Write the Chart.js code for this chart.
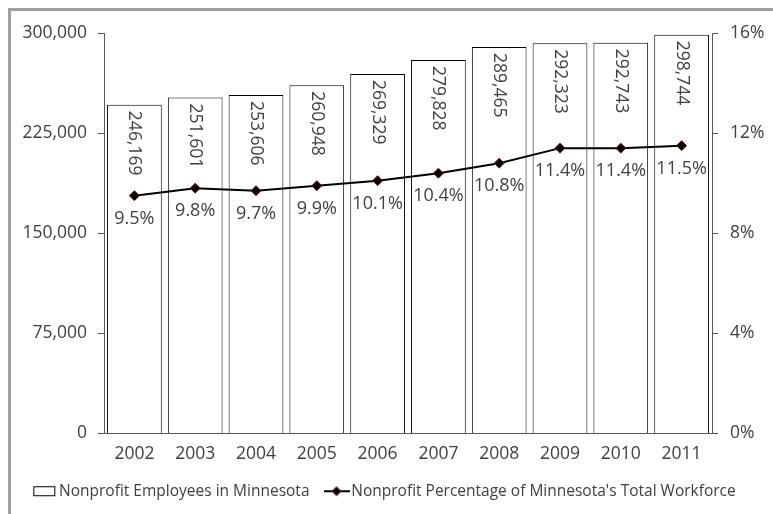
<!DOCTYPE html>
<html>
<head>
<meta charset="utf-8">
<script src="https://cdn.jsdelivr.net/npm/chart.js@4"></script>
<style>
  html, body { margin: 0; padding: 0; background: #fff; }
  #wrap { width: 773px; height: 514px; position: relative; }
</style>
</head>
<body>
<div id="wrap"><canvas id="chart" width="773" height="514"></canvas></div>
<script>
const years = ['2002', '2003', '2004', '2005', '2006', '2007', '2008', '2009', '2010', '2011'];
const employees = [246169, 251601, 253606, 260948, 269329, 279828, 289465, 292323, 292743, 298744];
const workforcePct = [9.5, 9.8, 9.7, 9.9, 10.1, 10.4, 10.8, 11.4, 11.4, 11.5];
const leftTicks = [0, 75000, 150000, 225000, 300000];
const rightTicks = [0, 4, 8, 12, 16];

const textColor = '#404040';
const fontFamily = '"Open Sans", sans-serif';

// legend icons
function makeBoxIcon() {
    const c = document.createElement('canvas');
    c.width = 24; c.height = 12;
    const g = c.getContext('2d');
    g.fillStyle = '#fff';
    g.fillRect(1, 1, 22, 10);
    g.strokeStyle = '#000';
    g.lineWidth = 1;
    g.strokeRect(1.5, 1.5, 21, 9);
    return c;
}
function makeLineIcon() {
    const c = document.createElement('canvas');
    c.width = 26; c.height = 12;
    const g = c.getContext('2d');
    g.strokeStyle = '#000';
    g.lineWidth = 2;
    g.beginPath(); g.moveTo(0, 6); g.lineTo(26, 6); g.stroke();
    g.fillStyle = '#000';
    g.strokeStyle = '#7a1010';
    g.lineWidth = 1;
    g.beginPath();
    g.moveTo(13, 1.5); g.lineTo(17.5, 6); g.lineTo(13, 10.5); g.lineTo(8.5, 6); g.closePath();
    g.fill(); g.stroke();
    return c;
}
const boxIcon = makeBoxIcon();
const lineIcon = makeLineIcon();

// gray frame around the chart
const framePlugin = {
    id: 'frame',
    beforeDraw(chart) {
        const ctx = chart.ctx;
        ctx.save();
        ctx.strokeStyle = '#a0a0a0';
        ctx.lineWidth = 3;
        ctx.beginPath();
        ctx.moveTo(9.5, 600);
        ctx.lineTo(9.5, 9.5);
        ctx.lineTo(800, 9.5);
        ctx.stroke();
        ctx.restore();
    }
};

// value labels: rotated inside bars, percentages under points
const labelPlugin = {
    id: 'valueLabels',
    afterDatasetsDraw(chart) {
        const ctx = chart.ctx;
        ctx.save();
        ctx.fillStyle = textColor;
        ctx.font = '17.5px ' + fontFamily;
        const barMeta = chart.getDatasetMeta(1);
        barMeta.data.forEach((bar, i) => {
            ctx.save();
            ctx.translate(bar.x, bar.y + 6);
            ctx.rotate(Math.PI / 2);
            ctx.textAlign = 'left';
            ctx.textBaseline = 'middle';
            ctx.fillText(employees[i].toLocaleString('en-US'), 0, 0);
            ctx.restore();
        });
        const lineMeta = chart.getDatasetMeta(0);
        ctx.font = '18px ' + fontFamily;
        ctx.textAlign = 'center';
        ctx.textBaseline = 'middle';
        lineMeta.data.forEach((pt, i) => {
            ctx.fillText(workforcePct[i].toFixed(1) + '%', pt.x, pt.y + 23);
        });
        ctx.restore();
    }
};

new Chart(document.getElementById('chart'), {
    data: {
        labels: years,
        datasets: [
            {
                type: 'line',
                label: "Nonprofit Percentage of Minnesota's Total Workforce",
                data: workforcePct,
                yAxisID: 'y1',
                borderColor: '#000',
                borderWidth: 2,
                pointStyle: 'rectRot',
                pointRadius: 5,
                pointBackgroundColor: '#000',
                pointBorderColor: '#7a1010',
                pointBorderWidth: 1,
                tension: 0,
                order: 0
            },
            {
                type: 'bar',
                label: 'Nonprofit Employees in Minnesota',
                data: employees,
                yAxisID: 'y',
                backgroundColor: '#fff',
                borderColor: '#000',
                borderWidth: 1,
                barPercentage: 0.9,
                categoryPercentage: 1,
                order: 1
            }
        ]
    },
    options: {
        responsive: false,
        animation: false,
        layout: { padding: { top: 33, bottom: 5, left: 0, right: 0 } },
        plugins: {
            tooltip: { enabled: false },
            legend: {
                position: 'bottom',
                labels: {
                    color: textColor,
                    font: { family: fontFamily, size: 15.5 },
                    usePointStyle: true,
                    pointStyleWidth: 14,
                    padding: 20,
                    generateLabels(chart) {
                        return [
                            { text: chart.data.datasets[1].label, pointStyle: boxIcon, datasetIndex: 1, fontColor: textColor, lineWidth: 0 },
                            { text: chart.data.datasets[0].label, pointStyle: lineIcon, datasetIndex: 0, fontColor: textColor, lineWidth: 0 }
                        ];
                    }
                }
            }
        },
        scales: {
            x: {
                afterFit(scale) { scale.height -= 11; },
                grid: { display: false, drawTicks: false },
                border: { color: '#595959', width: 1 },
                ticks: { color: textColor, font: { family: fontFamily, size: 17.5 }, padding: 10 }
            },
            y: {
                position: 'left',
                min: 0,
                max: 300000,
                afterBuildTicks(scale) { scale.ticks = leftTicks.map(v => ({ value: v })); },
                afterFit(scale) { scale.width = 104; },
                grid: { drawOnChartArea: false, tickLength: 6, color: '#595959' },
                border: { color: '#595959', width: 1 },
                ticks: {
                    color: textColor,
                    font: { family: fontFamily, size: 17.5 },
                    padding: 11,
                    callback: v => v.toLocaleString('en-US')
                }
            },
            y1: {
                position: 'right',
                min: 0,
                max: 16,
                afterBuildTicks(scale) { scale.ticks = rightTicks.map(v => ({ value: v })); },
                afterFit(scale) { scale.width = 61; },
                grid: { drawOnChartArea: false, tickLength: 6, color: '#595959' },
                border: { color: '#595959', width: 1 },
                ticks: {
                    color: textColor,
                    font: { family: fontFamily, size: 17.5 },
                    padding: 12,
                    callback: v => v + '%'
                }
            }
        }
    },
    plugins: [framePlugin, labelPlugin]
});
</script>
</body>
</html>
